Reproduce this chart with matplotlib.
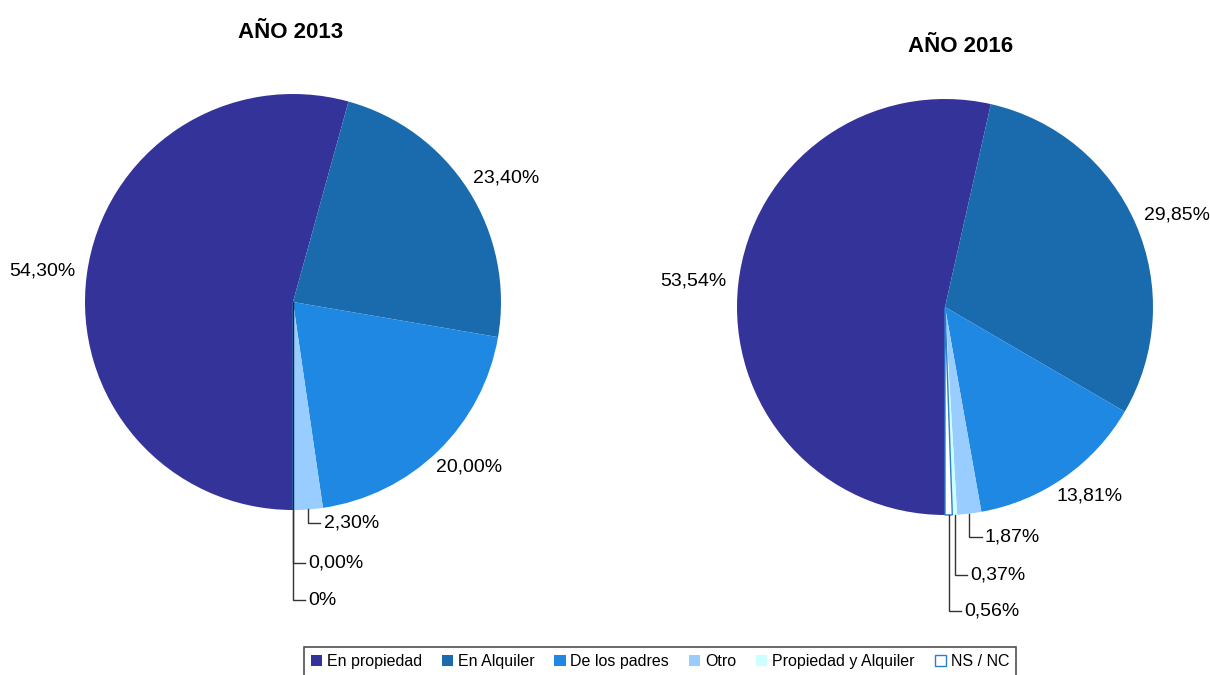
import numpy as np
import matplotlib.pyplot as plt

plt.rcParams['font.family'] = ['Liberation Sans', 'DejaVu Sans']

categories = ["En propiedad", "En Alquiler", "De los padres", "Otro",
              "Propiedad y Alquiler", "NS / NC"]
colors = ["#333399", "#1a6aae", "#1e88e2", "#99ccff", "#ccffff", "#ffffff"]

values_2013 = [54.30, 23.40, 20.00, 2.30, 0.00, 0.00]
labels_2013 = ["54,30%", "23,40%", "20,00%", "2,30%", "0,00%", "0%"]

values_2016 = [53.54, 29.85, 13.81, 1.87, 0.37, 0.56]
labels_2016 = ["53,54%", "29,85%", "13,81%", "1,87%", "0,37%", "0,56%"]

W, H = 1210, 675
fig = plt.figure(figsize=(W / 100, H / 100), dpi=100)
R = 208


def pie_axes(cx, cy):
    return fig.add_axes([(cx - R) / W, (H - cy - R) / H, 2 * R / W, 2 * R / H])


def draw_pie(ax, values, labels, leader_y):
    wedges, _ = ax.pie(values, colors=colors, startangle=-90, counterclock=False,
                       radius=1.0, wedgeprops=dict(linewidth=0))
    # white slice gets a blue outline
    wedges[5].set_edgecolor("#2a7fd0")
    wedges[5].set_linewidth(1.0)
    ax.set_xlim(-1, 1)
    ax.set_ylim(-1, 1)
    ax.set_aspect("equal")
    ax.axis("off")

    small = 0
    for w, lab, v in zip(wedges, labels, values):
        mid = np.deg2rad((w.theta1 + w.theta2) / 2)
        if v >= 5:
            # keep the label box a fixed gap off the rim
            ax.text(1.215 * np.cos(mid), 1.11 * np.sin(mid), lab, ha="center",
                    va="center", fontsize=14, clip_on=False)
        else:
            x0, y0 = np.cos(mid), np.sin(mid)
            yl = leader_y[small]
            small += 1
            ax.plot([x0, x0, x0 + 0.06], [y0, yl, yl], color="#333333", lw=1,
                    clip_on=False, solid_joinstyle="miter")
            ax.text(x0 + 0.075, yl, lab, ha="left", va="center", fontsize=14,
                    clip_on=False)
    return wedges


ax1 = pie_axes(293, 302)
wedges = draw_pie(ax1, values_2013, labels_2013, [-1.0625, -1.255, -1.433])
ax1.plot([0, 0], [0, -1], color="#222222", lw=1)

ax2 = pie_axes(945, 307)
draw_pie(ax2, values_2016, labels_2016, [-1.106, -1.29, -1.462])

fig.text(291 / W, 1 - 32 / H, "AÑO 2013", ha="center", va="center",
         fontsize=16, fontweight="bold")
fig.text(961 / W, 1 - 47 / H, "AÑO 2016", ha="center", va="center",
         fontsize=16, fontweight="bold")

leg = fig.legend(wedges, categories, loc="lower center", ncol=6,
                 bbox_to_anchor=(660 / W, -0.014), fontsize=11.5, frameon=True,
                 fancybox=False, edgecolor="#222222", handlelength=0.7,
                 handleheight=0.7, handletextpad=0.3, columnspacing=1.25,
                 borderpad=0.45)
leg.get_frame().set_linewidth(1.2)

fig.savefig("out.png", dpi=100)
